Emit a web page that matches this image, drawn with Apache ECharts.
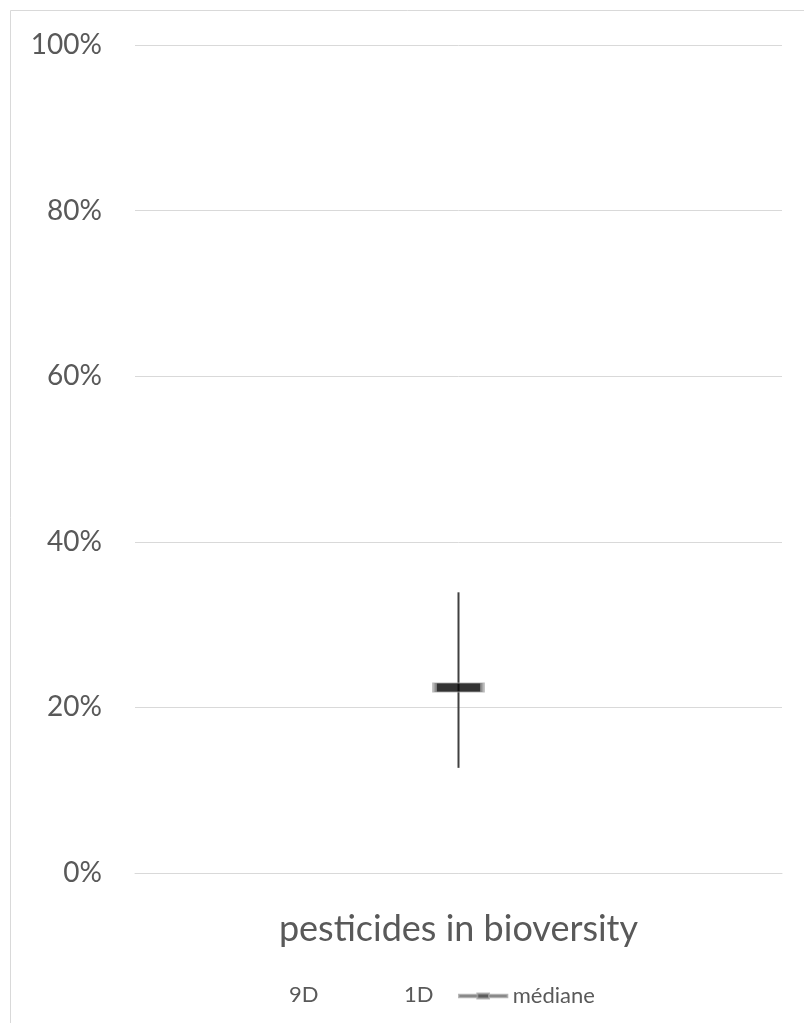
<!DOCTYPE html>
<html><head><meta charset="utf-8">
<script src="https://cdn.jsdelivr.net/npm/echarts@6/dist/echarts.min.js"></script>
<style>html,body{margin:0;padding:0;background:#fff}#c{width:804px;height:1023px}</style>
</head><body><div id="c"></div>
<script>
const categories = ['pesticides in bioversity'];
const decile9 = [0.339];
const decile1 = [0.127];
const median = [0.224];
const yTicks = [0, 0.2, 0.4, 0.6, 0.8, 1.0];

const FONT = 'Lato, "Open Sans", sans-serif';
const chart = echarts.init(document.getElementById('c'), null, {renderer: 'canvas'});
const medianIcon = 'path://M0,1.5h22v3h-22z M36,1.5h22v3h-22z M22,0h14v6h-14z';
const legText = {fontSize: 22, color: '#595959', fontFamily: FONT};
chart.setOption({
  animation: false,
  backgroundColor: '#fff',
  graphic: [{type: 'rect', shape: {x: 10.5, y: 10.5, width: 820, height: 1040}, style: {fill: 'none', stroke: '#d9d9d9', lineWidth: 1}, silent: true}],
  grid: {left: 135, right: 22, top: 45, bottom: 150},
  legend: [
    {data: [{name: '9D', icon: 'rect', itemStyle: {color: 'rgba(0,0,0,0)'}}], left: 265, top: 979, itemWidth: 14, itemHeight: 4, textStyle: legText, selectedMode: false},
    {data: [{name: '1D', icon: 'rect', itemStyle: {color: 'rgba(0,0,0,0)'}}], left: 380, top: 979, itemWidth: 14, itemHeight: 4, textStyle: legText, selectedMode: false},
    {data: [{name: 'médiane', icon: medianIcon, itemStyle: {color: '#333333'}}], left: 453, top: 980, itemWidth: 57, itemHeight: 5, itemGap: 0, textStyle: Object.assign({}, legText, {padding: [0, 0, 0, -4]}), selectedMode: false}
  ],
  xAxis: {
    type: 'category', data: categories,
    axisLine: {show: true, lineStyle: {color: '#d9d9d9', width: 1}},
    axisTick: {show: false},
    axisLabel: {fontSize: 36, color: '#595959', fontFamily: FONT, margin: 38}
  },
  yAxis: {
    type: 'value', min: 0, max: 1, interval: 0.2,
    axisLine: {show: false}, axisTick: {show: false},
    splitLine: {lineStyle: {color: '#d9d9d9', width: 1}},
    axisLabel: {fontSize: 28, color: '#595959', fontFamily: FONT, margin: 33,
      formatter: v => Math.round(v * 100) + '%'}
  },
  series: [
    {name: '9D', type: 'line', data: decile9, symbol: 'none', lineStyle: {opacity: 0}, itemStyle: {color: 'rgba(0,0,0,0)'}},
    {name: '1D', type: 'line', data: decile1, symbol: 'none', lineStyle: {opacity: 0}, itemStyle: {color: 'rgba(0,0,0,0)'}},
    {
      name: 'whisker', type: 'custom',
      data: categories.map((c, i) => [i, decile1[i], decile9[i]]),
      renderItem: (params, api) => {
        const lo = api.coord([api.value(0), api.value(1)]);
        const hi = api.coord([api.value(0), api.value(2)]);
        return {type: 'line', shape: {x1: lo[0], y1: lo[1], x2: hi[0], y2: hi[1]}, style: {stroke: '#404040', lineWidth: 2}};
      },
      z: 3
    },
    {name: 'médiane', type: 'scatter', data: median, symbol: 'rect', symbolSize: [48, 9],
      itemStyle: {color: '#000', borderColor: '#a6a6a6', borderWidth: 2}, z: 4}
  ]
});
</script></body></html>
